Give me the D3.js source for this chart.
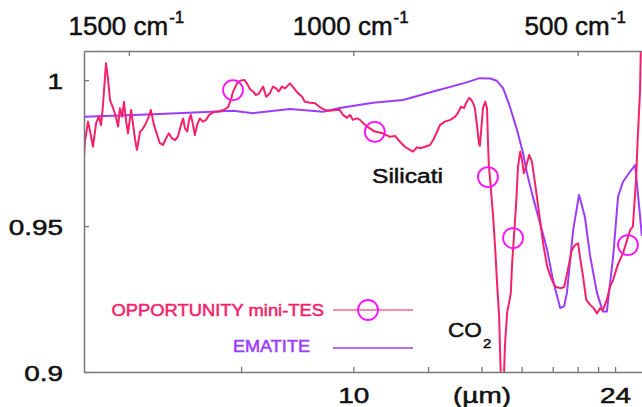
<!DOCTYPE html>
<html><head><meta charset="utf-8">
<script src="https://cdn.jsdelivr.net/npm/d3@7"></script>
<style>
body{margin:0;background:#fff}
svg{display:block;font-family:"Liberation Sans",Arial,Helvetica,sans-serif}
</style></head><body>
<svg id="chart" width="642" height="407"></svg>
<script>
// wavenumber (cm-1), emissivity
var opportunity = [
  [1600,0.9735],[1598,0.9790],[1591,0.9858],[1587,0.9829],[1580,0.9772],[1573,0.9853],[1567,0.9875],
  [1562,0.9846],[1558,0.9909],[1551,1.0058],[1547,1.0012],[1542,0.9932],[1535,0.9904],[1529,0.9875],
  [1524,0.9841],[1520,0.9904],[1515,0.9875],[1511,0.9926],[1506,0.9858],[1502,0.9818],[1495,0.9898],
  [1491,0.9852],[1486,0.9795],[1482,0.9761],[1475,0.9824],[1471,0.9829],[1464,0.9846],[1457,0.9869],
  [1451,0.9898],[1444,0.9846],[1437,0.9812],[1431,0.9784],[1424,0.9778],[1417,0.9801],[1411,0.9818],
  [1404,0.9801],[1397,0.9795],[1391,0.9806],[1384,0.9846],[1379,0.9869],[1375,0.9835],[1370,0.9824],
  [1366,0.9864],[1362,0.9881],[1357,0.9846],[1353,0.9812],[1348,0.9846],[1342,0.9869],[1335,0.9858],
  [1328,0.9864],[1321,0.9881],[1315,0.9887],[1308,0.9892],[1301,0.9892],[1295,0.9895],[1288,0.9898],
  [1279,0.9908],[1272,0.9936],[1268,0.9960],[1259,0.9989],[1252,0.9998],[1243,1.0001],[1237,0.9989],
  [1230,0.9969],[1223,0.9961],[1217,0.9949],[1210,0.9955],[1201,0.9978],[1194,0.9943],[1186,0.9955],
  [1179,0.9978],[1172,0.9972],[1166,0.9961],[1159,0.9978],[1152,0.9972],[1141,0.9989],[1132,0.9972],
  [1123,0.9955],[1114,0.9943],[1108,0.9926],[1096,0.9923],[1085,0.9921],[1074,0.9907],[1063,0.9898],
  [1052,0.9895],[1041,0.9898],[1030,0.9898],[1023,0.9881],[1014,0.9871],[1007,0.9881],[1001,0.9864],
  [992,0.9869],[985,0.9864],[978,0.9853],[969,0.9841],[963,0.9835],[952,0.9824],[934,0.9818],
  [918,0.9806],[907,0.9809],[896,0.9789],[885,0.9772],[874,0.9761],[867,0.9755],[858,0.9770],
  [851,0.9767],[840,0.9772],[829,0.9778],[822,0.9795],[813,0.9824],[807,0.9846],[796,0.9858],
  [784,0.9864],[773,0.9875],[767,0.9887],[760,0.9909],[753,0.9904],[749,0.9921],[742,0.9939],
  [738,0.9935],[733,0.9921],[729,0.9904],[724,0.9841],[720,0.9784],[718,0.9775],[715,0.9829],
  [711,0.9904],[706,0.9926],[702,0.9904],[700,0.9795],[698,0.9709],[695,0.9658],[689,0.9545],
  [684,0.9429],[680,0.9315],[675,0.9190],[673,0.9075],[671,0.8972],[669,0.8904],[666,0.8904],
  [662,0.9093],[657,0.9206],[653,0.9236],[649,0.9271],[646,0.9374],[642,0.9464],[637,0.9579],
  [633,0.9704],[628,0.9755],[624,0.9727],[620,0.9681],[615,0.9704],[608,0.9744],[602,0.9721],
  [595,0.9647],[586,0.9544],[577,0.9441],[568,0.9361],[559,0.9321],[550,0.9292],[537,0.9287],
  [530,0.9292],[522,0.9350],[513,0.9418],[506,0.9435],[499,0.9441],[495,0.9395],[488,0.9327],
  [481,0.9247],[472,0.9230],[464,0.9218],[457,0.9201],[450,0.9218],[444,0.9212],[435,0.9247],
  [428,0.9292],[421,0.9315],[412,0.9361],[406,0.9384],[399,0.9407],[390,0.9452],[383,0.9487],
  [377,0.9498],[370,0.9658],[366,0.9806],[361,0.9966],[359,1.0138]
];
var ematite = [
  [1600,0.9875],[1520,0.9879],[1431,0.9884],[1342,0.9890],[1268,0.9895],[1223,0.9887],[1141,0.9901],
  [1067,0.9892],[1030,0.9905],[956,0.9923],[889,0.9932],[822,0.9961],[755,0.9989],[718,1.0007],
  [695,1.0006],[680,0.9998],[666,0.9972],[651,0.9909],[635,0.9829],[622,0.9751],[613,0.9682],
  [600,0.9601],[584,0.9511],[568,0.9418],[555,0.9315],[539,0.9219],[530,0.9226],[524,0.9271],
  [510,0.9487],[497,0.9607],[484,0.9532],[472,0.9395],[457,0.9271],[444,0.9207],[435,0.9207],
  [421,0.9395],[410,0.9601],[399,0.9652],[383,0.9687],[372,0.9709],[363,0.9567],[357,0.9466]
];
var markers = [[1268,0.9966],[952,0.9823],[700,0.9668],[644,0.9459],[388,0.9435]];

var topTicks = [1500, 1000, 500];
var umTicks = [8, 10, 12, 14, 16, 18, 20, 22, 24];
var umLabels = ["", "10", "", "(\u00b5m)", "", "", "", "", "24"];
var yTicks = [0.9, 0.95, 1];

var RED = "#f5216b", PURPLE = "#9b3dff", MAG = "#ff10ff", AXIS = "#777";

var svg = d3.select("#chart");
var m = {left: 84, top: 51, right: 645, bottom: 372};

var x = d3.scaleLinear().domain([1600, 350]).range([m.left, m.right]);
var y = d3.scaleLinear().domain([0.9, 1.01]).range([m.bottom, m.top]);

svg.append("defs").append("clipPath").attr("id", "clip")
  .append("rect").attr("x", m.left).attr("y", m.top)
  .attr("width", m.right - m.left).attr("height", m.bottom - m.top);

var line = d3.line().x(function(d){ return x(d[0]); }).y(function(d){ return y(d[1]); });

var plot = svg.append("g").attr("clip-path", "url(#clip)");
plot.append("path").datum(ematite).attr("d", line)
  .attr("fill", "none").attr("stroke", PURPLE).attr("stroke-width", 2).attr("stroke-linejoin", "round");
plot.append("path").datum(opportunity).attr("d", line)
  .attr("fill", "none").attr("stroke", RED).attr("stroke-width", 2).attr("stroke-linejoin", "round");
plot.selectAll("circle.mk").data(markers).enter().append("circle")
  .attr("class", "mk")
  .attr("cx", function(d){ return x(d[0]); })
  .attr("cy", function(d){ return y(d[1]); })
  .attr("r", 10).attr("fill", "none").attr("stroke", MAG).attr("stroke-width", 1.8);

// axes
var styleAxis = function(g){
  g.attr("font-family", null).attr("font-size", null);
  g.select(".domain").attr("stroke", AXIS).attr("stroke-width", 1.5);
  g.selectAll(".tick line").attr("stroke", AXIS).attr("stroke-width", 1.3);
  g.selectAll("text").attr("fill", "#111").attr("stroke", "#111").attr("stroke-width", 0.5);
};

var gTop = svg.append("g").attr("transform", "translate(0," + m.top + ")")
  .call(d3.axisTop(x).tickValues(topTicks).tickSize(-5).tickSizeOuter(0)
    .tickFormat(function(d){ return d + " cm"; }))
  .call(styleAxis);
gTop.selectAll("text").attr("x", -3).attr("y", -16).attr("dy", 0).style("font-size", "26px")
  .append("tspan").attr("dy", -12).attr("dx", 1).style("font-size", "17px").text("-1");

svg.append("g").attr("transform", "translate(0," + m.bottom + ")")
  .call(d3.axisBottom(x).tickValues(umTicks.map(function(u){ return 10000 / u; }))
    .tickSize(-5).tickSizeOuter(0)
    .tickFormat(function(d, i){ return umLabels[i]; }))
  .call(styleAxis)
  .selectAll("text").attr("y", 0).attr("dy", 0).style("font-size", "22px")
  .attr("transform", "translate(0,31) scale(1.27,1)");

svg.append("g").attr("transform", "translate(" + m.left + ",0)")
  .call(d3.axisLeft(y).tickValues(yTicks).tickSize(-5).tickSizeOuter(0)
    .tickFormat(function(d){ return d; }))
  .call(styleAxis)
  .selectAll("text").attr("x", 0).attr("dy", 0).style("font-size", "22px")
  .attr("transform", "translate(-21,8) scale(1.27,1)");

// stretched text helper
var label = function(txt, px, py, size, sx, anchor, color){
  return svg.append("text")
    .attr("transform", "translate(" + px + "," + py + ") scale(" + sx + ",1)")
    .attr("text-anchor", anchor).attr("fill", color)
    .attr("stroke", color).attr("stroke-width", 0.5)
    .style("font-size", size + "px").text(txt);
};

label("Silicati", 372, 183, 20, 1.23, "start", "#111");
label("CO", 448, 337, 20.5, 1.1, "start", "#111");
label("2", 483, 348, 13.5, 1.1, "start", "#111");

// legend
label("OPPORTUNITY mini-TES", 324, 316, 17, 1.08, "end", RED);
label("EMATITE", 310, 352, 16, 1.13, "end", PURPLE);
svg.append("line").attr("x1", 333).attr("x2", 413).attr("y1", 310).attr("y2", 310)
  .attr("stroke", RED).attr("stroke-width", 1.5).attr("stroke-opacity", 0.7);
svg.append("circle").attr("cx", 368).attr("cy", 310).attr("r", 10)
  .attr("fill", "none").attr("stroke", MAG).attr("stroke-width", 1.8);
svg.append("line").attr("x1", 333).attr("x2", 413).attr("y1", 348).attr("y2", 348)
  .attr("stroke", PURPLE).attr("stroke-width", 1.5);
</script></body></html>
